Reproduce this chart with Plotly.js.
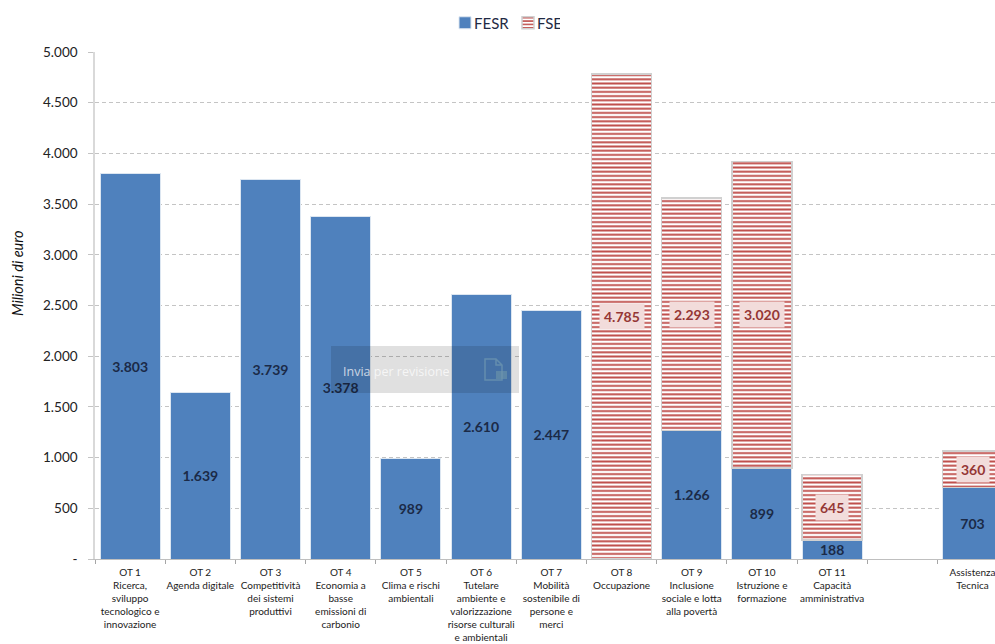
<!DOCTYPE html>
<html>
<head>
<meta charset="utf-8">
<script src="https://cdn.plot.ly/plotly-3.0.1.min.js"></script>
<style>
html,body{margin:0;padding:0;background:#fff;overflow:hidden;}
#chart{width:995px;height:644px;}
</style>
</head>
<body>
<div id="chart"></div>
<script>
// Fund allocation by thematic objective, in millions of euro
const categories = [
  "OT 1<br>Ricerca,<br>sviluppo<br>tecnologico e<br>innovazione",
  "OT 2<br>Agenda digitale",
  "OT 3<br>Competitività<br>dei sistemi<br>produttivi",
  "OT 4<br>Economia a<br>basse<br>emissioni di<br>carbonio",
  "OT 5<br>Clima e rischi<br>ambientali",
  "OT 6<br>Tutelare<br>ambiente e<br>valorizzazione<br>risorse culturali<br>e ambientali",
  "OT 7<br>Mobilità<br>sostenibile di<br>persone e<br>merci",
  "OT 8<br>Occupazione",
  "OT 9<br>Inclusione<br>sociale e lotta<br>alla povertà",
  "OT 10<br>Istruzione e<br>formazione",
  "OT 11<br>Capacità<br>amministrativa",
  " ",
  "Assistenza<br>Tecnica"
];
const fesrValues = [3803, 1639, 3739, 3378, 989, 2610, 2447, null, 1266, 899, 188, null, 703];
const fseValues  = [null, null, null, null, null, null, null, 4785, 2293, 3020, 645, null, 360];
const yTickValues = [0, 500, 1000, 1500, 2000, 2500, 3000, 3500, 4000, 4500, 5000];
const yTickLabels = ["-", "500", "1.000", "1.500", "2.000", "2.500", "3.000", "3.500", "4.000", "4.500", "5.000"];

const FONT = "Lato, 'Open Sans', sans-serif";
const W = 995, H = 644, ML = 95, MT = 52, MB = 85;
const px = v => (v - ML) / (W - ML);
const py = v => 1 - (v - MT) / (H - MT - MB);

const fesr = {
  type: "bar", name: "FESR", x: categories, y: fesrValues,
  marker: {color: "#4F81BD", line: {color: "#DCE6F1", width: 1}},
  texttemplate: "%{y:,d}", textposition: "inside", insidetextanchor: "middle",
  constraintext: "none", textangle: 0,
  insidetextfont: {family: FONT, size: 14, color: "#1B2A47", weight: 700},
  hoverinfo: "y+name"
};
const fse = {
  type: "bar", name: "FSE", x: categories, y: fseValues,
  marker: {
    color: "#FFFFFF",
    line: {color: "#D0D0D0", width: 1.5},
    pattern: {shape: "-", size: 4.2, solidity: 0.46, fgcolor: "#C0504D", bgcolor: "#FFFFFF", fillmode: "replace"}
  },
  hoverinfo: "y+name"
};

// FSE values sit on a pale plate so they stay readable over the stripes
const fseLabels = categories.map((c, i) => fseValues[i] == null ? null : ({
  x: c, y: (fesrValues[i] || 0) + fseValues[i] / 2, xref: "x", yref: "y",
  text: fseValues[i].toLocaleString("de-DE"), showarrow: false,
  font: {family: FONT, size: 14, color: "#953735", weight: 700},
  bgcolor: "#F2DCDB", borderpad: 4
})).filter(Boolean);

const overlayShapes = [
  {type: "rect", xref: "paper", yref: "paper", x0: px(331), x1: px(519), y0: py(346), y1: py(393),
   fillcolor: "rgba(0,0,0,0.12)", line: {width: 0}, layer: "above"},
  {type: "path", xref: "paper", yref: "paper", layer: "above",
   path: `M${px(485)},${py(359)} L${px(496)},${py(359)} L${px(502)},${py(365)} L${px(502)},${py(380)} L${px(485)},${py(380)} Z M${px(496)},${py(359)} L${px(496)},${py(365)} L${px(502)},${py(365)}`,
   line: {color: "rgba(120,160,180,0.6)", width: 1.5}},
  {type: "rect", xref: "paper", yref: "paper", layer: "above",
   x0: px(496), x1: px(507), y0: py(371), y1: py(379),
   fillcolor: "rgba(110,150,170,0.6)", line: {width: 0}}
];

const overlayText = {
  xref: "paper", yref: "paper", x: px(341), y: py(371), xanchor: "left", yanchor: "middle",
  text: "Invia per revisione", showarrow: false,
  font: {family: "'Open Sans', sans-serif", size: 12.5, color: "rgba(255,255,255,0.72)"}
};

const yAxisLabel = {
  xref: "paper", yref: "paper", x: px(17), y: py(273), xanchor: "center", yanchor: "middle",
  text: "<i>Milioni di euro</i>", showarrow: false, textangle: -90,
  font: {family: FONT, size: 14.5, color: "#111"}
};

const layout = {
  width: W, height: H, barmode: "stack", bargap: 0.145,
  separators: ",.",
  paper_bgcolor: "#fff", plot_bgcolor: "#fff",
  margin: {l: ML, r: 0, t: MT, b: MB, pad: 0, autoexpand: false},
  font: {family: FONT, color: "#222"},
  showlegend: true,
  legend: {orientation: "h", traceorder: "normal", x: px(434), y: py(23), xref: "paper", yref: "paper",
           xanchor: "left", yanchor: "middle",
           font: {family: FONT, size: 15, color: "#1F2A44"}, itemwidth: 30,
           entrywidth: 18, entrywidthmode: "pixels"},
  xaxis: {
    type: "category", categoryorder: "array", categoryarray: categories,
    range: [-0.5, 12.32], tickson: "boundaries",
    ticks: "outside", ticklen: 4, tickcolor: "#A6A6A6", tickwidth: 1,
    showline: true, linecolor: "#BFBFBF", linewidth: 1, showgrid: false,
    tickangle: 0, ticklabelstandoff: 4, tickfont: {family: FONT, size: 10, color: "#222"}
  },
  yaxis: {
    range: [0, 5000], tickmode: "array", tickvals: yTickValues, ticktext: yTickLabels,
    ticks: "outside", ticklen: 5, tickcolor: "#C4C4C4",
    showline: true, linecolor: "#D9D9D9", linewidth: 1.5,
    showgrid: true, gridcolor: "#C4C4C4", griddash: "4px,3px", gridwidth: 1, zeroline: false,
    ticklabelstandoff: 8,
    tickfont: {family: FONT, size: 13.5, color: "#222"}
  },
  shapes: overlayShapes,
  annotations: fseLabels.concat([overlayText, yAxisLabel])
};

Plotly.newPlot("chart", [fesr, fse], layout, {displayModeBar: false, responsive: false}).then(gd => {
  // Pull the legend swatches closer to their labels
  gd.querySelectorAll(".legend .legendpoints").forEach(g => g.setAttribute("transform", "translate(11,0)"));
});
</script>
</body>
</html>
